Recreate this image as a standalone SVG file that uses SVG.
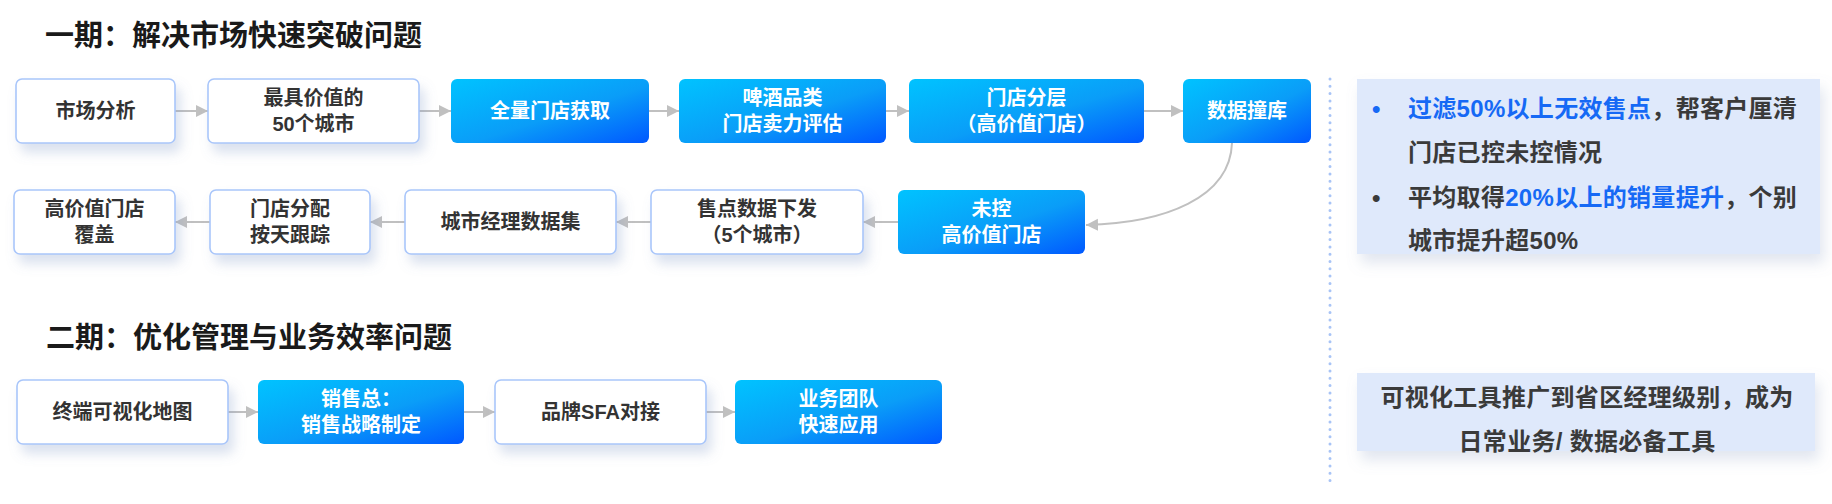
<svg xmlns="http://www.w3.org/2000/svg" width="1832" height="504" viewBox="0 0 1832 504">
<defs>
<linearGradient id="blueGrad" x1="0" y1="0" x2="1" y2="1">
<stop offset="0" stop-color="#00c3ff"/>
<stop offset="0.55" stop-color="#0a9df8"/>
<stop offset="1" stop-color="#0058ff"/>
</linearGradient>
<filter id="shadow" x="-20%" y="-30%" width="150%" height="180%">
<feDropShadow dx="5" dy="9" stdDeviation="6" flood-color="#7d95c4" flood-opacity="0.28"/>
</filter>
<filter id="panelShadow" x="-10%" y="-20%" width="130%" height="160%">
<feDropShadow dx="4" dy="9" stdDeviation="7" flood-color="#8a9cc0" flood-opacity="0.25"/>
</filter>
<marker id="arrow" markerUnits="userSpaceOnUse" markerWidth="13" markerHeight="13" refX="12" refY="6" orient="auto">
<path d="M0,0 L12,6 L0,12 z" fill="#c0c0c0"/>
</marker>
<style>
.title{font-family:"Liberation Sans","Noto Sans CJK SC",sans-serif;font-size:29px;font-weight:700;fill:#1a1a1a}
.wnode rect{fill:#ffffff;stroke:#a9c6fa;stroke-width:1.6;filter:url(#shadow)}
.bnode rect{fill:url(#blueGrad)}
.wnode text{font-family:"Liberation Sans","Noto Sans CJK SC",sans-serif;font-size:20px;font-weight:600;fill:#333333;text-anchor:middle}
.bnode text{font-family:"Liberation Sans","Noto Sans CJK SC",sans-serif;font-size:20px;font-weight:600;fill:#ffffff;text-anchor:middle}
.conn{fill:none;stroke:#c0c0c0;stroke-width:2;marker-end:url(#arrow)}
.panel{fill:#dfe9fb;filter:url(#panelShadow)}
.ptext{font-family:"Liberation Sans","Noto Sans CJK SC",sans-serif;font-size:24px;font-weight:700;fill:#3a3a3a;letter-spacing:0.3px}
.hl{fill:#1669f5}
</style>
</defs>
<rect width="1832" height="504" fill="#ffffff"/>

<text class="title" x="45" y="46">一期：解决市场快速突破问题</text>
<text class="title" x="46" y="348">二期：优化管理与业务效率问题</text>

<g id="connectors">
<path class="conn" d="M175,111 H208"/>
<path class="conn" d="M419,111 H451"/>
<path class="conn" d="M649,111 H679"/>
<path class="conn" d="M886,111 H909"/>
<path class="conn" d="M1144,111 H1183"/>
<path class="conn" d="M1232,143 C1230,198 1165,223 1086,225"/>
<path class="conn" d="M898,222 H863"/>
<path class="conn" d="M651,222 H616"/>
<path class="conn" d="M405,222 H370"/>
<path class="conn" d="M210,222 H175"/>
<path class="conn" d="M228,412 H258"/>
<path class="conn" d="M464,412 H495"/>
<path class="conn" d="M706,412 H735"/>
</g>

<g id="n1" class="wnode"><rect x="16" y="79" width="159" height="64" rx="6"/><text x="95.5" y="118">市场分析</text></g>
<g id="n2" class="wnode"><rect x="208" y="79" width="211" height="64" rx="6"/><text x="313.5" y="105">最具价值的</text><text x="313.5" y="131">50个城市</text></g>
<g id="n3" class="bnode"><rect x="451" y="79" width="198" height="64" rx="6"/><text x="550" y="118">全量门店获取</text></g>
<g id="n4" class="bnode"><rect x="679" y="79" width="207" height="64" rx="6"/><text x="782.5" y="105">啤酒品类</text><text x="782.5" y="131">门店卖力评估</text></g>
<g id="n5" class="bnode"><rect x="909" y="79" width="235" height="64" rx="6"/><text x="1026.5" y="105">门店分层</text><text x="1026.5" y="131">（高价值门店）</text></g>
<g id="n6" class="bnode"><rect x="1183" y="79" width="128" height="64" rx="6"/><text x="1247" y="118">数据撞库</text></g>

<g id="m5" class="bnode"><rect x="898" y="190" width="187" height="64" rx="6"/><text x="991.5" y="216">未控</text><text x="991.5" y="242">高价值门店</text></g>
<g id="m4" class="wnode"><rect x="651" y="190" width="212" height="64" rx="6"/><text x="757" y="216">售点数据下发</text><text x="757" y="242">（5个城市）</text></g>
<g id="m3" class="wnode"><rect x="405" y="190" width="211" height="64" rx="6"/><text x="510.5" y="229">城市经理数据集</text></g>
<g id="m2" class="wnode"><rect x="210" y="190" width="160" height="64" rx="6"/><text x="290" y="216">门店分配</text><text x="290" y="242">按天跟踪</text></g>
<g id="m1" class="wnode"><rect x="14" y="190" width="161" height="64" rx="6"/><text x="94.5" y="216">高价值门店</text><text x="94.5" y="242">覆盖</text></g>

<g id="p1" class="wnode"><rect x="17" y="380" width="211" height="64" rx="6"/><text x="122.5" y="419">终端可视化地图</text></g>
<g id="p2" class="bnode"><rect x="258" y="380" width="206" height="64" rx="6"/><text x="361" y="406">销售总：</text><text x="361" y="432">销售战略制定</text></g>
<g id="p3" class="wnode"><rect x="495" y="380" width="211" height="64" rx="6"/><text x="600.5" y="419">品牌SFA对接</text></g>
<g id="p4" class="bnode"><rect x="735" y="380" width="207" height="64" rx="6"/><text x="838.5" y="406">业务团队</text><text x="838.5" y="432">快速应用</text></g>

<line x1="1330" y1="79" x2="1330" y2="481" stroke="#a8c4f6" stroke-width="3" stroke-linecap="round" stroke-dasharray="0 7.3"/>

<g id="panel1">
<rect class="panel" x="1357" y="79" width="463" height="175"/>
<text class="ptext" x="1372" y="117"><tspan class="hl">•</tspan></text>
<text class="ptext" x="1408" y="117"><tspan class="hl">过滤50%以上无效售点</tspan>，帮客户厘清</text>
<text class="ptext" x="1408" y="161">门店已控未控情况</text>
<text class="ptext" x="1372" y="206">•</text>
<text class="ptext" x="1408" y="206">平均取得<tspan class="hl">20%以上的销量提升</tspan>，个别</text>
<text class="ptext" x="1408" y="249">城市提升超50%</text>
</g>

<g id="panel2">
<rect class="panel" x="1357" y="373" width="458" height="78"/>
<text class="ptext" x="1587" y="406" text-anchor="middle">可视化工具推广到省区经理级别，成为</text>
<text class="ptext" x="1587" y="450" text-anchor="middle">日常业务/ 数据必备工具</text>
</g>
</svg>
